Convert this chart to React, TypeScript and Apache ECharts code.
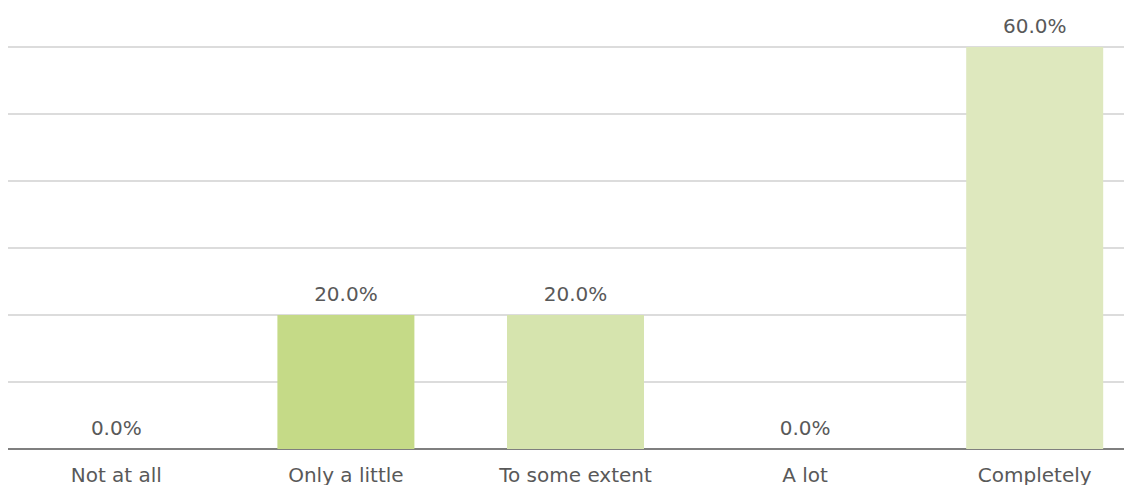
import React, { useEffect, useRef } from "react";
import * as echarts from "echarts";

const categories = ["Not at all", "Only a little", "To some extent", "A lot", "Completely"];
const values = [0, 20, 20, 0, 60];
const barColors = ["#d6e4ae", "#c5da87", "#d6e4ae", "#d6e4ae", "#dee8be"];

export default function App() {
  const ref = useRef<HTMLDivElement>(null);
  useEffect(() => {
    if (!ref.current) return;
    const chart = echarts.init(ref.current, undefined, { renderer: "svg" });
    const font = "DejaVu Sans";
    chart.setOption({
      animation: false,
      textStyle: { fontFamily: font },
      grid: { left: 0.5, top: 39, width: 1148, bottom: 36, containLabel: false },
      xAxis: {
        type: "category",
        data: categories,
        axisLine: { show: true, lineStyle: { color: "#7f7f7f", width: 2 } },
        axisTick: { show: false },
        axisLabel: { color: "#595959", fontSize: 20, margin: 16, fontFamily: font },
      },
      yAxis: {
        type: "value",
        min: 0,
        max: 60,
        interval: 10,
        axisLabel: { show: false },
        axisLine: { show: false },
        axisTick: { show: false },
        splitLine: { show: true, lineStyle: { color: "#d0d0d0", width: 1.5 } },
      },
      series: [
        {
          type: "bar",
          barWidth: 137,
          data: values.map((v, i) => ({ value: v, itemStyle: { color: barColors[i] } })),
          label: {
            show: true,
            position: "top",
            distance: 11,
            color: "#595959",
            fontSize: 20,
            fontFamily: font,
            formatter: (p: any) => p.value.toFixed(1) + "%",
          },
        },
      ],
    });
    return () => chart.dispose();
  }, []);
  return (
    <div style={{ width: 1124, height: 477, overflow: "hidden" }}>
      <div ref={ref} style={{ width: 1160, height: 477, marginLeft: -7 }} />
    </div>
  );
}
